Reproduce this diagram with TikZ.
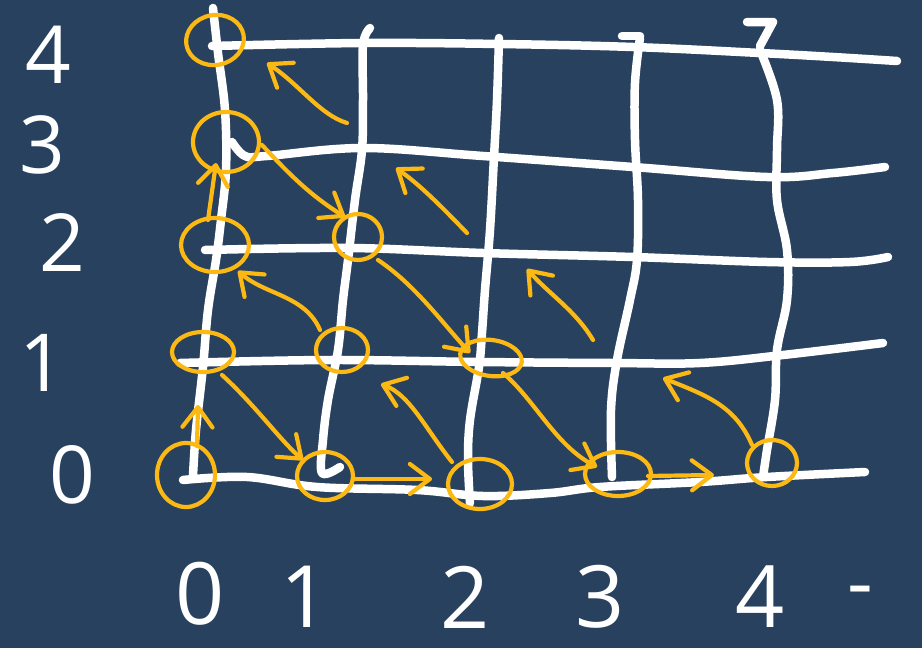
\documentclass[tikz,border=0pt]{standalone}
\usepackage{fontspec}
\setmainfont{Open Sans}
\usetikzlibrary{arrows.meta,shapes.geometric}
\definecolor{bg}{HTML}{28415F}
\definecolor{yel}{HTML}{FDB913}
\begin{document}
\begin{tikzpicture}[x=1pt,y=-1pt,
  gridline/.style={white,line width=8.5pt,line cap=round,line join=round},
  ring/.style={draw=yel,line width=4.2pt,ellipse,inner sep=0pt},
  arr/.style={yel,line width=4.2pt,line cap=round,line join=round,-{Straight Barb[round,length=20pt,width=30pt]}},
  lab/.style={white,font=\fontsize{80}{80}\selectfont,inner sep=0pt},
  blab/.style={white,font=\fontsize{86}{86}\selectfont,inner sep=0pt}]
\fill[bg] (0,0) rectangle (922,648);
\useasboundingbox (0,0) rectangle (922,648);

% vertical grid lines
\draw[gridline] plot[smooth,tension=0.6] coordinates {(213,8) (218,53) (225,110) (226,170) (221,220) (216,260) (208,310) (203,367) (196,430) (193,476)};
\draw[gridline] plot[smooth,tension=0.6] coordinates {(370,28) (363,45) (363,100) (362,150) (355,200) (348,260) (343,300) (338,350) (328,400) (323,440) (322,473) (340,467)};
\draw[gridline] plot[smooth,tension=0.6] coordinates {(499,38) (497,100) (494,157) (490,230) (485,290) (482,333) (479,367) (470,420) (468,460) (470,503)};
\draw[gridline] (622,36) -- (640,36);
\draw[gridline] plot[smooth,tension=0.6] coordinates {(640,38) (635,83) (635,140) (638,200) (637,260) (630,300) (617,360) (611,410) (612,477)};
\draw[gridline] (747,22) -- (773,22) -- (760,46);
\draw[gridline] plot[smooth,tension=0.6] coordinates {(760,50) (777,100) (777,150) (777,200) (787,250) (787,300) (777,350) (775,400) (767,450) (763,477)};

% horizontal grid lines
\draw[gridline] plot[smooth,tension=0.6] coordinates {(212,46) (363,43) (500,44) (633,47) (760,53) (833,57) (897,61)};
\draw[gridline] plot[smooth,tension=0.6] coordinates {(232,142) (245,156) (267,156) (363,148) (483,156) (633,167) (767,177) (833,173) (885,167)};
\draw[gridline] plot[smooth,tension=0.6] coordinates {(205,250) (350,248) (483,253) (633,257) (767,262) (850,262) (888,257)};
\draw[gridline] plot[smooth,tension=0.6] coordinates {(180,363) (330,360) (480,362) (613,363) (700,363) (783,355) (883,343)};
\draw[gridline] plot[smooth,tension=0.6] coordinates {(183,480) (247,477) (317,487) (417,490) (483,496) (550,493) (600,487) (700,482) (767,477) (865,472)};

% circled points
\node[ring,minimum width=58pt,minimum height=50pt,rotate=10] (c04) at (215,40) {};
\node[ring,minimum width=66pt,minimum height=60pt] (c03) at (226,142) {};
\node[ring,minimum width=68pt,minimum height=54pt] (c02) at (215,245) {};
\node[ring,minimum width=48pt,minimum height=46pt] (c12) at (358,237) {};
\node[ring,minimum width=62pt,minimum height=40pt] (c01) at (203,352) {};
\node[ring,minimum width=52pt,minimum height=44pt] (c11) at (342,350) {};
\node[ring,minimum width=62pt,minimum height=36pt,rotate=-8] (c21) at (491,358) {};
\node[ring,minimum width=58pt,minimum height=64pt] (c00) at (186,475) {};
\node[ring,minimum width=56pt,minimum height=48pt] (c10) at (325,476) {};
\node[ring,minimum width=64pt,minimum height=50pt] (c20) at (480,484) {};
\node[ring,minimum width=66pt,minimum height=44pt] (c30) at (618,474) {};
\node[ring,minimum width=50pt,minimum height=46pt] (c40) at (772,463) {};

% arrow end points
\coordinate (a1s) at (197,446); \coordinate (a1e) at (198,405);
\coordinate (a2s) at (222,375); \coordinate (a2e) at (303,460);
\coordinate (a3s) at (354,479); \coordinate (a3e) at (432,479);
\coordinate (a4s) at (452,462); \coordinate (a4e) at (381,384);
\coordinate (a5s) at (320,330); \coordinate (a5e) at (238,271);
\coordinate (a6s) at (208,220); \coordinate (a6e) at (216,163);
\coordinate (a7s) at (262,145); \coordinate (a7e) at (345,217);
\coordinate (a8s) at (378,260); \coordinate (a8e) at (470,353);
\coordinate (a9s) at (503,373); \coordinate (a9e) at (597,467);
\coordinate (a10s) at (648,476); \coordinate (a10e) at (714,475);
\coordinate (a11s) at (752,445); \coordinate (a11e) at (663,378);
\coordinate (a12s) at (593,340); \coordinate (a12e) at (527,269);
\coordinate (a13s) at (467,233); \coordinate (a13e) at (396,168);
\coordinate (a14s) at (347,123); \coordinate (a14e) at (267,63);

% enumeration arrows
\draw[arr] (a1s) -- (a1e);
\draw[arr] (a2s) .. controls (255,405) and (280,440) .. (a2e);
\draw[arr] (a3s) -- (a3e);
\draw[arr] (a4s) .. controls (425,428) and (410,395) .. (a4e);
\draw[arr] (a5s) .. controls (305,295) and (265,295) .. (a5e);
\draw[arr] (a6s) -- (a6e);
\draw[arr] (a7s) .. controls (290,175) and (310,195) .. (a7e);
\draw[arr] (a8s) .. controls (415,285) and (440,320) .. (a8e);
\draw[arr] (a9s) .. controls (535,400) and (555,445) .. (a9e);
\draw[arr] (a10s) -- (a10e);
\draw[arr] (a11s) .. controls (735,405) and (705,395) .. (a11e);
\draw[arr] (a12s) .. controls (575,310) and (550,295) .. (a12e);
\draw[arr] (a13s) .. controls (440,205) and (420,185) .. (a13e);
\draw[arr] (a14s) .. controls (320,115) and (300,85) .. (a14e);

% axis labels
\node[lab] (y4) at (48,55) {4};
\node[lab] (y3) at (42,145) {3};
\node[lab] (y2) at (62,243) {2};
\node[lab] (y1) at (42,363) {1};
\node[lab] (y0) at (72,475) {0};
\node[blab] (x0) at (200,594) {0};
\node[blab] (x1) at (305,597) {1};
\node[blab] (x2) at (465,597) {2};
\node[blab] (x3) at (600,597) {3};
\node[blab] (x4) at (760,597) {4};
\node[lab] (x5) at (860,598) {-};
\end{tikzpicture}
\end{document}
